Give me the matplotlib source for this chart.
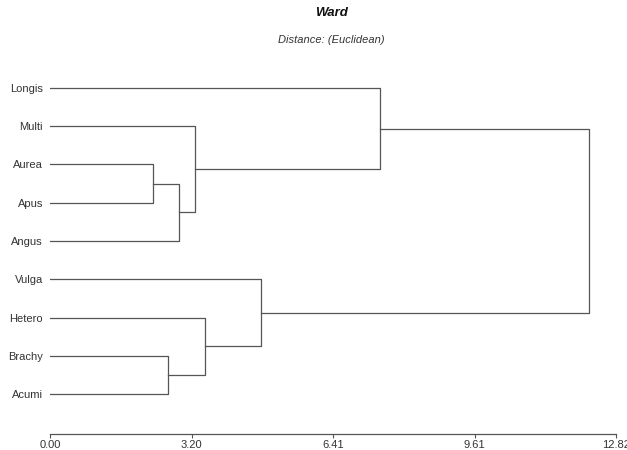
import matplotlib.pyplot as plt

plt.rcParams["font.family"] = ["Liberation Sans", "DejaVu Sans"]

# feuilles (de haut en bas) et fusions (enfant a, enfant b, hauteur)
leaves = ["Longis", "Multi", "Aurea", "Apus", "Angus", "Vulga", "Hetero", "Brachy", "Acumi"]
merge_a = [2, 7, 9, 1, 6, 5, 0, 15]
merge_b = [3, 8, 4, 11, 10, 13, 12, 14]
merge_h = [2.34, 2.67, 2.92, 3.28, 3.50, 4.77, 7.47, 12.21]
x_max = 12.82
x_ticks = [0.00, 3.205, 6.41, 9.615, 12.82]
x_tick_labels = ["0.00", "3.20", "6.41", "9.61", "12.82"]

fig = plt.figure(figsize=(6.27, 4.5), dpi=100)
ax = fig.add_axes([50 / 627, 16 / 450, (616 - 50) / 627, (434 - 49.6) / 450])

line_col = "#555555"
pos = {i: (0.0, i + 1) for i in range(len(leaves))}
for k, (a, b, h) in enumerate(zip(merge_a, merge_b, merge_h)):
    ha, ya = pos[a]
    hb, yb = pos[b]
    ax.plot([ha, h, h, hb], [ya, ya, yb, yb], color=line_col, lw=0.9)
    pos[len(leaves) + k] = (h, (ya + yb) / 2)

ax.set_xlim(0, x_max)
ax.set_ylim(10.04, 0)
ax.set_yticks(range(1, len(leaves) + 1))
ax.set_yticklabels(leaves, fontsize=8, color="#333333")
ax.tick_params(axis="y", length=0, pad=5)
ax.set_xticks(x_ticks)
ax.set_xticklabels(x_tick_labels, fontsize=8, color="#333333")
ax.tick_params(axis="x", length=3, width=0.8, color=line_col, pad=1)
for s in ["top", "right", "left"]:
    ax.spines[s].set_visible(False)
ax.spines["bottom"].set_color(line_col)
ax.spines["bottom"].set_linewidth(0.9)

fig.text(331 / 627, 1 - 13 / 450, "Ward", ha="center", va="center",
         fontsize=9.5, fontweight="bold", fontstyle="italic", color="#111111")
fig.text(331 / 627, 1 - 40 / 450, "Distance: (Euclidean)", ha="center", va="center",
         fontsize=8, fontstyle="italic", color="#333333")

fig.savefig("out.png", dpi=100)
